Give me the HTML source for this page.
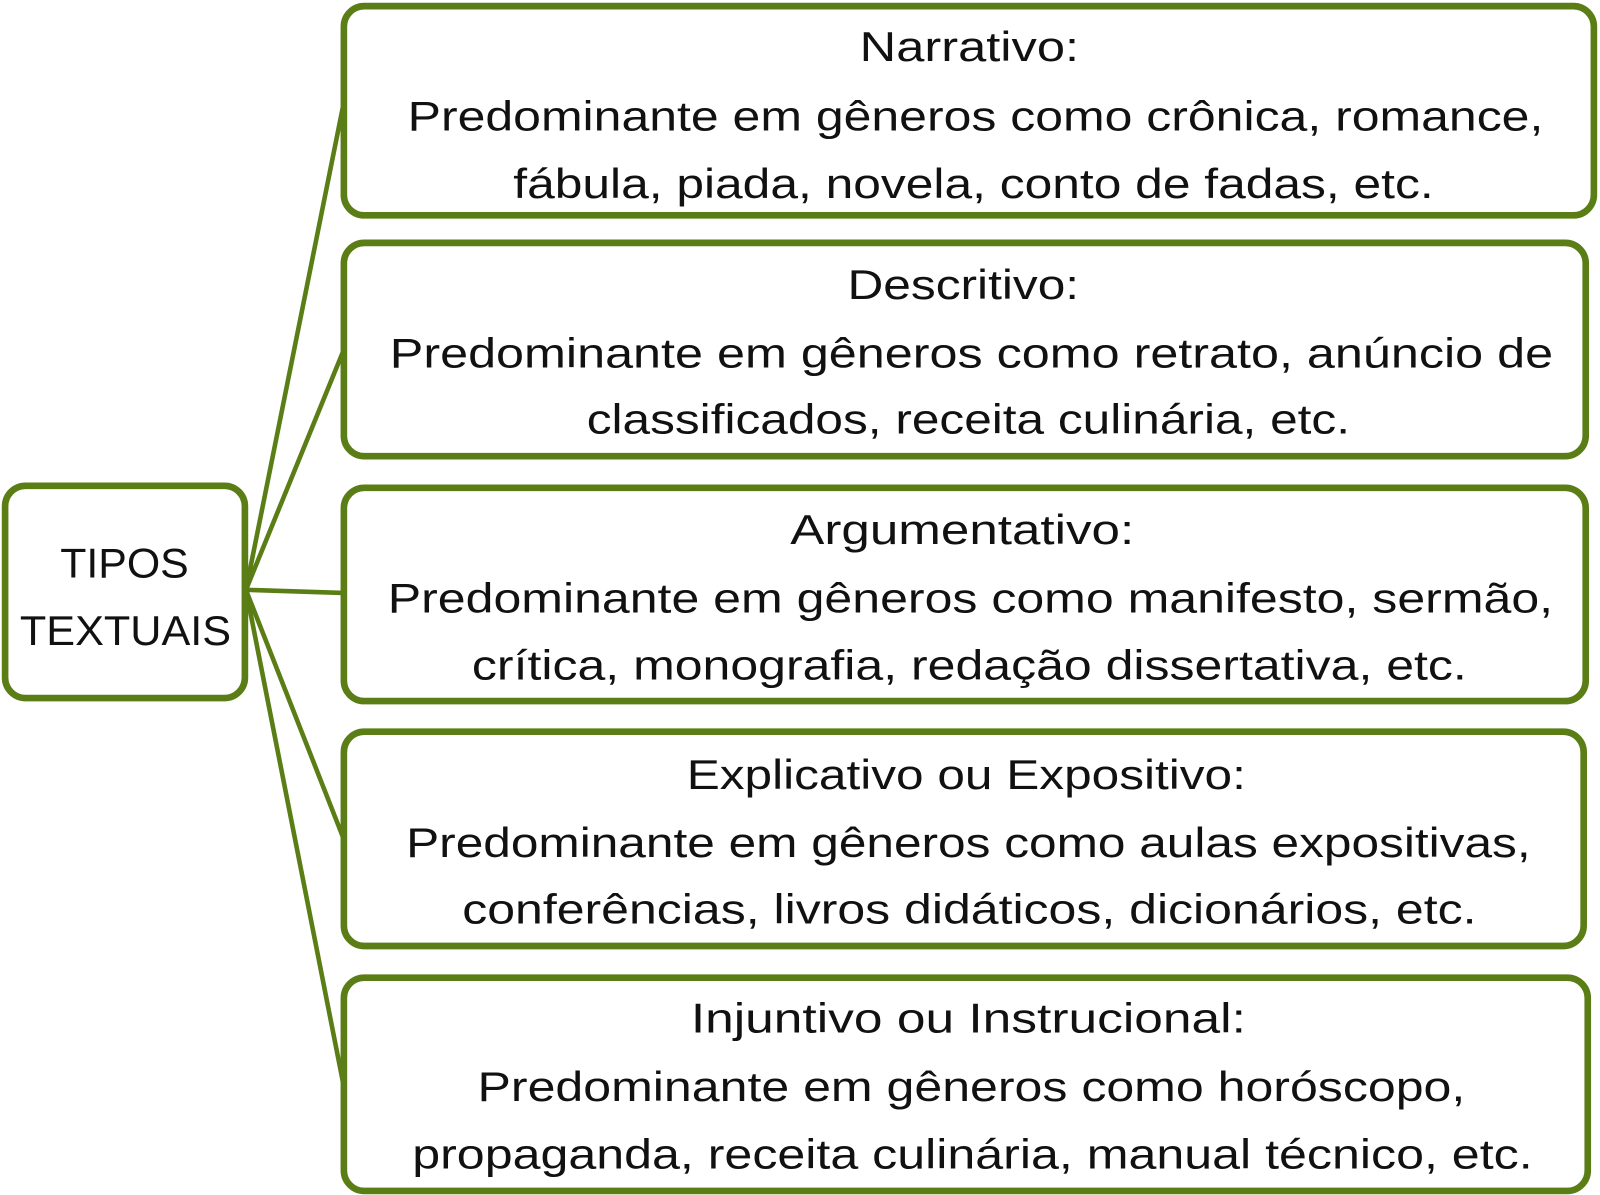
<!DOCTYPE html>
<html><head><meta charset="utf-8"><style>
html,body{margin:0;padding:0;background:#fff;width:1600px;height:1195px;overflow:hidden}
svg{display:block}
svg text{font-family:"Liberation Sans",sans-serif;font-size:41px;fill:#111;text-anchor:middle}
</style></head><body>
<svg width="1600" height="1195" viewBox="0 0 1568 1171" preserveAspectRatio="none" xmlns="http://www.w3.org/2000/svg">
<g stroke="#5a7d16" stroke-width="4.5" fill="none">
<line x1="241" y1="578" x2="336" y2="105"/>
<line x1="241" y1="578" x2="336" y2="345"/>
<line x1="241" y1="578" x2="336" y2="581"/>
<line x1="241" y1="578" x2="336" y2="820"/>
<line x1="241" y1="578" x2="336" y2="1060"/>
</g>
<g stroke="#5a7d16" stroke-width="6.5" fill="#fff">
<rect x="5" y="476" width="235" height="208" rx="20"/>
<rect x="337" y="6" width="1225" height="205" rx="20"/>
<rect x="337" y="238" width="1217" height="209" rx="20"/>
<rect x="337" y="478" width="1217" height="209" rx="20"/>
<rect x="337" y="717" width="1215" height="210" rx="20"/>
<rect x="337" y="958" width="1219" height="209" rx="20"/>
</g>
<text x="122" y="566" textLength="126" lengthAdjust="spacingAndGlyphs">TIPOS</text>
<text x="123" y="632" textLength="207" lengthAdjust="spacingAndGlyphs">TEXTUAIS</text>

<text x="950" y="60" textLength="215" lengthAdjust="spacingAndGlyphs">Narrativo:</text>
<text x="956" y="128" textLength="1113" lengthAdjust="spacingAndGlyphs">Predominante em gêneros como crônica, romance,</text>
<text x="954" y="194" textLength="902" lengthAdjust="spacingAndGlyphs">fábula, piada, novela, conto de fadas, etc.</text>

<text x="944" y="293" textLength="227" lengthAdjust="spacingAndGlyphs">Descritivo:</text>
<text x="952" y="360" textLength="1140" lengthAdjust="spacingAndGlyphs">Predominante em gêneros como retrato, anúncio de</text>
<text x="949" y="425" textLength="748" lengthAdjust="spacingAndGlyphs">classificados, receita culinária, etc.</text>

<text x="943" y="533" textLength="337" lengthAdjust="spacingAndGlyphs">Argumentativo:</text>
<text x="951" y="600" textLength="1142" lengthAdjust="spacingAndGlyphs">Predominante em gêneros como manifesto, sermão,</text>
<text x="950" y="666" textLength="975" lengthAdjust="spacingAndGlyphs">crítica, monografia, redação dissertativa, etc.</text>

<text x="947" y="773" textLength="548" lengthAdjust="spacingAndGlyphs">Explicativo ou Expositivo:</text>
<text x="949" y="840" textLength="1102" lengthAdjust="spacingAndGlyphs">Predominante em gêneros como aulas expositivas,</text>
<text x="950" y="905" textLength="994" lengthAdjust="spacingAndGlyphs">conferências, livros didáticos, dicionários, etc.</text>

<text x="949" y="1012" textLength="544" lengthAdjust="spacingAndGlyphs">Injuntivo ou Instrucional:</text>
<text x="952" y="1079" textLength="968" lengthAdjust="spacingAndGlyphs">Predominante em gêneros como horóscopo,</text>
<text x="953" y="1145" textLength="1098" lengthAdjust="spacingAndGlyphs">propaganda, receita culinária, manual técnico, etc.</text>
</svg>
</body></html>
